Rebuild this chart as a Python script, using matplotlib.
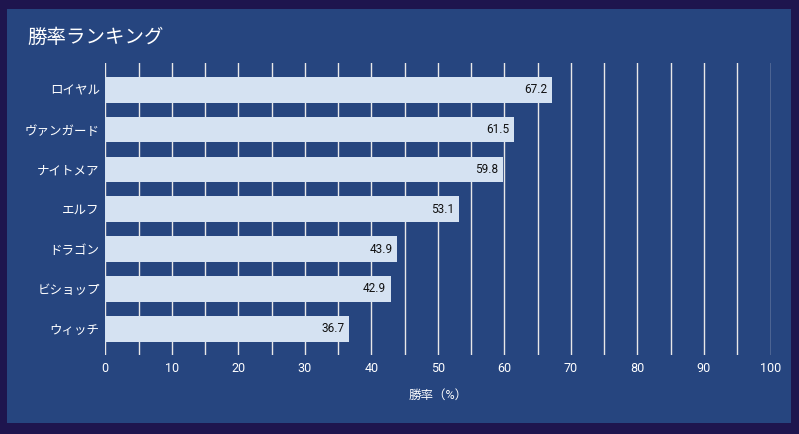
import matplotlib
matplotlib.use("Agg")
import matplotlib.pyplot as plt
from matplotlib.patches import Rectangle, FancyBboxPatch
import numpy as np

plt.rcParams['font.family'] = ['Roboto', 'Noto Sans CJK JP', 'DejaVu Sans']

categories = ["ロイヤル", "ヴァンガード", "ナイトメア", "エルフ", "ドラゴン", "ビショップ", "ウィッチ"]
win_rates = [67.2, 61.5, 59.8, 53.1, 43.9, 42.9, 36.7]
x_ticks = [0, 10, 20, 30, 40, 50, 60, 70, 80, 90, 100]
title = "勝率ランキング"
x_label = "勝率（%）"

W, H = 799, 434
fig = plt.figure(figsize=(W / 100, H / 100), dpi=100)
fig.patch.set_facecolor("#1e154e")
fig.patches.append(Rectangle((7 / W, (H - 423) / H), (791 - 7) / W, (423 - 9) / H,
                             transform=fig.transFigure, facecolor="#26457f",
                             edgecolor="none", zorder=-5))

left, right, top, bottom = 105.3, 770.5, 63, 355
ax = fig.add_axes([left / W, (H - bottom) / H, (right - left) / W, (bottom - top) / H])
ax.set_facecolor("none")
ax.set_zorder(1)

y = np.arange(len(categories))
bars = ax.barh(y, win_rates, height=0.645, color="#d5e2f2", zorder=2)
for b, v in zip(bars, win_rates):
    ax.text(v - 0.7, b.get_y() + b.get_height() / 2, f"{v}", ha="right", va="center",
            fontsize=8.5, color="#111111", zorder=3)

ax.set_xlim(0, 100)
ax.set_ylim(6.66, -0.67)
ax.set_xticks(x_ticks)
ax.set_xticks(np.arange(5, 100, 10), minor=True)
ax.set_yticks(y)
ax.set_yticklabels(categories)
ax.tick_params(axis="both", which="both", length=0, colors="white", labelsize=9)
ax.tick_params(axis="x", pad=5)
ax.tick_params(axis="y", pad=4)
ax.grid(axis="x", which="both", color="#e8e8e8", linewidth=1, zorder=1)
ax.set_axisbelow(True)
for s in ax.spines.values():
    s.set_visible(False)

ax.set_xlabel(x_label, color="white", fontsize=9, labelpad=10)
fig.text(27 / W, (H - 38) / H, title, color="white", fontsize=14, ha="left", va="center")

fig.savefig("out.png", dpi=100, facecolor=fig.get_facecolor())
